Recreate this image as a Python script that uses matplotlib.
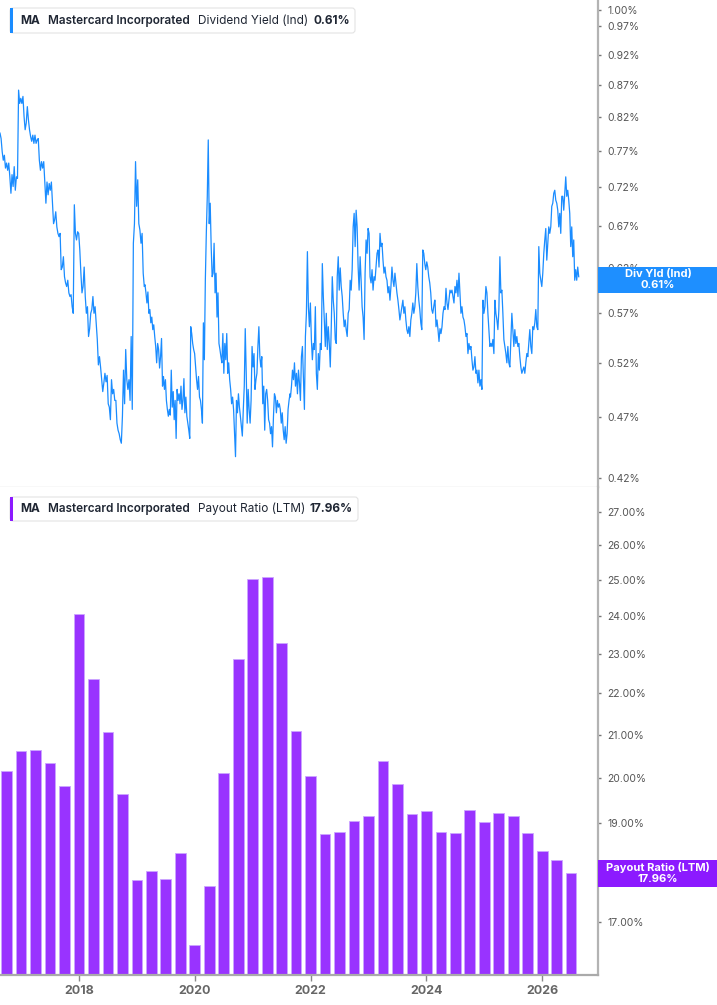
import numpy as np
import matplotlib.pyplot as plt
from matplotlib.patches import Rectangle, FancyBboxPatch
from matplotlib.ticker import FixedLocator, NullLocator

plt.rcParams['font.family'] = ['Inter', 'DejaVu Sans']

#%% data: dividend yield (%) in four date segments
yld_seg1 = [0.796, 0.788, 0.769, 0.757, 0.764, 0.746, 0.753, 0.743, 0.753, 0.734, 0.712, 0.737, 0.721, 0.748,
            0.716, 0.734, 0.732, 0.862, 0.841, 0.849, 0.841, 0.852, 0.821, 0.801, 0.811, 0.836, 0.816, 0.801,
            0.791, 0.784, 0.793, 0.781, 0.793, 0.781, 0.786, 0.788, 0.757, 0.743, 0.755, 0.746, 0.755, 0.725,
            0.699, 0.727, 0.710, 0.725, 0.716, 0.727, 0.699, 0.673, 0.678, 0.688, 0.669, 0.661, 0.657, 0.661,
            0.618, 0.621, 0.633, 0.610, 0.603, 0.599, 0.606, 0.592, 0.588, 0.590, 0.577, 0.570, 0.697, 0.661,
            0.653, 0.663, 0.661, 0.641, 0.614, 0.592, 0.599, 0.621, 0.588, 0.570, 0.577, 0.546, 0.554, 0.570,
            0.574, 0.588, 0.570, 0.577, 0.560, 0.543, 0.518, 0.526, 0.516, 0.504, 0.493, 0.501, 0.510, 0.502,
            0.508, 0.482, 0.479, 0.468, 0.504, 0.491, 0.495, 0.485, 0.485, 0.465, 0.459, 0.456, 0.451, 0.448,
            0.471, 0.513, 0.482, 0.533, 0.504, 0.495, 0.504, 0.485, 0.546, 0.477, 0.649, 0.673, 0.755, 0.695,
            0.730, 0.673, 0.665, 0.649, 0.661, 0.614, 0.599]
yld_seg2 = [0.601, 0.592, 0.581, 0.593, 0.570, 0.574, 0.560, 0.566, 0.553, 0.558, 0.546, 0.536, 0.520, 0.539,
            0.533, 0.515, 0.526, 0.544, 0.498, 0.507, 0.495, 0.504, 0.485, 0.477, 0.471, 0.477, 0.472, 0.513,
            0.479, 0.493, 0.468, 0.485, 0.452, 0.495, 0.485, 0.491, 0.482, 0.498, 0.477, 0.485, 0.505, 0.474,
            0.488, 0.471, 0.465, 0.459, 0.452, 0.556, 0.549, 0.539, 0.533, 0.529, 0.516, 0.504, 0.495, 0.507,
            0.488, 0.485, 0.477, 0.465, 0.560, 0.523, 0.606, 0.661, 0.708, 0.786, 0.673, 0.699, 0.645, 0.610,
            0.614, 0.649, 0.592, 0.614, 0.566, 0.592, 0.539, 0.533, 0.526, 0.520, 0.549, 0.510, 0.539, 0.523,
            0.549, 0.510, 0.520, 0.504, 0.495, 0.482, 0.488, 0.477, 0.456, 0.437, 0.485, 0.474, 0.491, 0.479,
            0.471, 0.462, 0.454, 0.477, 0.498, 0.554, 0.510, 0.465, 0.495, 0.477, 0.465, 0.485, 0.536, 0.516,
            0.529, 0.495, 0.504, 0.510, 0.536, 0.556, 0.526, 0.516, 0.526, 0.482, 0.498, 0.459, 0.491, 0.495,
            0.485, 0.468, 0.465, 0.456, 0.462, 0.445, 0.471, 0.491, 0.488, 0.474, 0.485, 0.479, 0.482, 0.477,
            0.465, 0.474, 0.459, 0.451, 0.462, 0.448, 0.456, 0.477, 0.485, 0.491]
yld_seg3 = [0.488, 0.498, 0.513, 0.504, 0.520, 0.498, 0.510, 0.491, 0.513, 0.501, 0.485, 0.526, 0.536, 0.504,
            0.477, 0.546, 0.570, 0.639, 0.577, 0.556, 0.581, 0.543, 0.523, 0.539, 0.533, 0.577, 0.510, 0.495,
            0.529, 0.513, 0.539, 0.533, 0.625, 0.588, 0.563, 0.536, 0.570, 0.533, 0.556, 0.539, 0.516, 0.556,
            0.610, 0.584, 0.570, 0.543, 0.539, 0.610, 0.633, 0.595, 0.620, 0.599, 0.588, 0.570, 0.556, 0.563,
            0.553, 0.546, 0.570, 0.574, 0.606, 0.595, 0.618, 0.669, 0.686, 0.645, 0.690, 0.669, 0.621, 0.595,
            0.633, 0.606, 0.577, 0.566, 0.543, 0.614, 0.653, 0.637, 0.667, 0.661, 0.610, 0.603, 0.618, 0.595,
            0.610, 0.606, 0.621, 0.637, 0.641, 0.621, 0.661, 0.645, 0.649, 0.629, 0.614, 0.621, 0.610, 0.606,
            0.592, 0.599, 0.584, 0.599, 0.621, 0.606, 0.599, 0.614, 0.603, 0.592, 0.584, 0.574, 0.563, 0.570,
            0.577, 0.584, 0.570, 0.577, 0.563, 0.553, 0.549, 0.556, 0.546, 0.563, 0.570, 0.581, 0.570, 0.577,
            0.592, 0.625, 0.599, 0.584, 0.574, 0.560, 0.553, 0.641, 0.637, 0.625, 0.618, 0.627, 0.621, 0.610,
            0.603, 0.592, 0.574, 0.570, 0.577, 0.584]
yld_seg4 = [0.584, 0.556, 0.563, 0.553, 0.541, 0.554, 0.549, 0.556, 0.570, 0.577, 0.574, 0.597, 0.581, 0.574,
            0.584, 0.595, 0.592, 0.595, 0.588, 0.581, 0.599, 0.592, 0.606, 0.588, 0.614, 0.592, 0.570, 0.577,
            0.566, 0.563, 0.556, 0.546, 0.549, 0.529, 0.539, 0.533, 0.536, 0.523, 0.513, 0.516, 0.526, 0.510,
            0.513, 0.501, 0.513, 0.498, 0.504, 0.495, 0.584, 0.570, 0.577, 0.599, 0.592, 0.570, 0.553, 0.536,
            0.539, 0.536, 0.543, 0.529, 0.584, 0.570, 0.563, 0.553, 0.574, 0.633, 0.592, 0.595, 0.570, 0.543,
            0.536, 0.529, 0.520, 0.536, 0.520, 0.516, 0.543, 0.570, 0.553, 0.536, 0.553, 0.539, 0.546, 0.536,
            0.539, 0.526, 0.516, 0.510, 0.513, 0.516, 0.510, 0.520, 0.529, 0.526, 0.539, 0.553, 0.536, 0.529,
            0.556, 0.553, 0.560, 0.574, 0.556, 0.553, 0.645, 0.614, 0.606, 0.599, 0.614, 0.637, 0.653, 0.667,
            0.629, 0.649, 0.669, 0.661, 0.669, 0.695, 0.699, 0.712, 0.716, 0.703, 0.699, 0.690, 0.669, 0.686,
            0.661, 0.708, 0.708, 0.690, 0.712, 0.734, 0.708, 0.716, 0.703, 0.686, 0.645, 0.669, 0.633, 0.653,
            0.606, 0.618, 0.606, 0.621, 0.610]
# start / end of each segment as fractional year
seg_dates = [(2016.636, 2019.128), (2019.140, 2021.645), (2021.653, 2024.144), (2024.149, 2026.631)]

# payout ratio (LTM, %), quarterly from Q4 2016
payout = [20.15, 20.62, 20.64, 20.34, 19.82, 24.06, 22.36, 21.06, 19.63, 17.82,
          18.00, 17.84, 18.38, 16.56, 17.71, 20.11, 22.88, 25.03, 25.08, 23.28,
          21.08, 20.04, 18.77, 18.81, 19.05, 19.16, 20.38, 19.87, 19.19, 19.27,
          18.82, 18.79, 19.28, 19.02, 19.22, 19.15, 18.79, 18.41, 18.23, 17.96]
first_quarter = 2016.75

yld_ticks = [0.42, 0.47, 0.52, 0.57, 0.62, 0.67, 0.72, 0.77, 0.82, 0.87, 0.92, 0.97, 1.00]
pay_ticks = [17, 18, 19, 20, 21, 22, 23, 24, 25, 26, 27]
year_ticks = [2018, 2020, 2022, 2024, 2026]

#%% build series
segs = [yld_seg1, yld_seg2, yld_seg3, yld_seg4]
t = np.concatenate([np.linspace(a, b, len(s)) for (a, b), s in zip(seg_dates, segs)])
yld = np.concatenate([np.array(s) for s in segs])
yld[-1] = 0.61
quarters = first_quarter + 0.25 * np.arange(len(payout))
payout = np.array(payout)

#%% figure
W, H = 717, 1005
fig = plt.figure(figsize=(W / 100, H / 100), dpi=100)

def px_axes(x0, y0, x1, y1, **kw):
    return fig.add_axes([x0 / W, 1 - y1 / H, (x1 - x0) / W, (y1 - y0) / H], **kw)

ax1 = px_axes(0, 0, 598, 487)
ax2 = px_axes(0, 487, 598, 975)
xlim = (2016.636, 2026.964)

blue = '#1a8cff'
purple = '#9933ff'
tick_col = '#555555'

for ax in (ax1, ax2):
    ax.set_yscale('log')
    ax.set_xlim(*xlim)
    ax.yaxis.tick_right()
    ax.spines['top'].set_visible(False)
    ax.spines['left'].set_visible(False)
    ax.spines['right'].set_color('#b3b3b3')
    ax.spines['right'].set_linewidth(1.6)
    ax.yaxis.set_minor_locator(NullLocator())
    ax.tick_params(axis='y', which='major', length=2.5, width=1, color='#777777',
                   pad=4, labelsize=7.5, labelcolor=tick_col)

# top: dividend yield
ax1.plot(t, yld, color=blue, lw=0.9)
ax1.set_ylim(0.4131, 1.0187)
ax1.yaxis.set_major_locator(FixedLocator(yld_ticks))
ax1.set_yticklabels(['%.2f%%' % v for v in yld_ticks])
ax1.spines['bottom'].set_color('#dddddd')
ax1.spines['bottom'].set_linewidth(1)
ax1.set_xticks([])

# bottom: payout ratio bars
ax2.bar(quarters, payout - 15, bottom=15, width=0.185, color=purple,
        edgecolor='#cba6ff', linewidth=0.6)
ax2.set_ylim(16.01, 27.77)
ax2.yaxis.set_major_locator(FixedLocator(pay_ticks))
ax2.set_yticklabels(['%.2f%%' % v for v in pay_ticks])
ax2.spines['bottom'].set_color('#aaaaaa')
ax2.spines['bottom'].set_linewidth(1.6)
ax2.set_xticks(year_ticks)
ax2.set_xticklabels([str(y) for y in year_ticks], fontweight='bold', fontsize=9, color='#666666')
ax2.tick_params(axis='x', length=4, width=1, color='#888888', pad=3)

#%% overlay: legend boxes and last-value labels (pixel coords)
ov = px_axes(0, 0, W, H, zorder=10)
ov.set_xlim(0, W)
ov.set_ylim(H, 0)
ov.axis('off')

txt_col = '#1f2633'

def legend_box(y0, y1, x1, colour, metric, value, xs):
    ov.add_patch(FancyBboxPatch((10, y0), x1 - 10, y1 - y0, boxstyle='round,pad=0,rounding_size=3',
                                fc='white', ec='#e3e3e3', lw=0.8))
    ov.add_patch(Rectangle((10, y0), 3, y1 - y0, color=colour, lw=0))
    yc = (y0 + y1) / 2
    for x, s, w in zip(xs, ['MA', 'Mastercard Incorporated', metric, value],
                       ['bold', 'semibold', 'normal', 'bold']):
        ov.text(x, yc, s, ha='left', va='center', fontsize=8.5, fontweight=w, color=txt_col)

legend_box(8, 33, 355, blue, 'Dividend Yield (Ind)', '0.61%', [20.7, 47.7, 198.3, 313.3])
legend_box(497, 521, 358, '#8c1aff', 'Payout Ratio (LTM)', '17.96%', [20.7, 47.7, 198.3, 309.0])

def value_tag(y0, y1, colour, name, value):
    ov.add_patch(Rectangle((598, y0), W - 598, y1 - y0, fc=colour, ec='none'))
    ov.text(658, y0 + (y1 - y0) * 0.27, name, ha='center', va='center', fontsize=8,
            fontweight='bold', color='white')
    ov.text(658, y0 + (y1 - y0) * 0.70, value, ha='center', va='center', fontsize=8,
            fontweight='bold', color='white')

value_tag(267, 293, '#1e8fff', 'Div Yld (Ind)', '0.61%')
value_tag(860, 887, '#8c1aff', 'Payout Ratio (LTM)', '17.96%')

plt.savefig('out.png', dpi=100)
